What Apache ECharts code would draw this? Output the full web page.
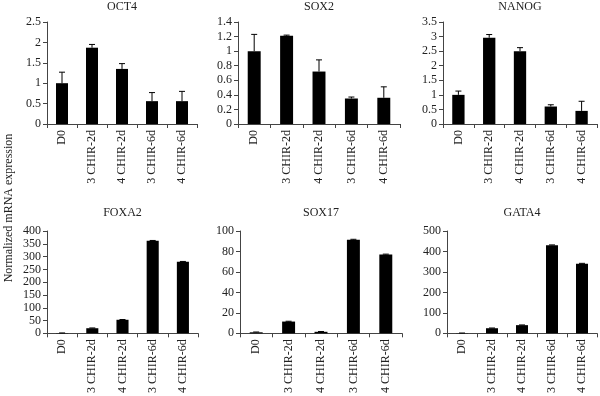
<!DOCTYPE html>
<html>
<head>
<meta charset="utf-8">
<script src="https://cdn.jsdelivr.net/npm/echarts@6/dist/echarts.min.js"></script>
<style>
  html, body { margin: 0; padding: 0; background: #fff; }
  #chart { width: 600px; height: 396px; }
</style>
</head>
<body>
<div id="chart"></div>
<script>
// categories shared by all six panels
const categories = ['D0', '3 CHIR-2d', '4 CHIR-2d', '3 CHIR-6d', '4 CHIR-6d']

// mean values and upper error (SD) per gene
const oct4Values = [1.0, 1.87, 1.35, 0.56, 0.56]
const oct4Errors = [0.27, 0.08, 0.13, 0.21, 0.24]
const sox2Values = [1.0, 1.21, 0.72, 0.35, 0.36]
const sox2Errors = [0.23, 0.01, 0.16, 0.02, 0.15]
const nanogValues = [1.0, 2.96, 2.5, 0.6, 0.45]
const nanogErrors = [0.13, 0.11, 0.12, 0.06, 0.33]
const foxa2Values = [1, 20, 53, 362, 280]
const foxa2Errors = [0.5, 1, 1, 1, 1]
const sox17Values = [1, 11.5, 1.5, 91.5, 77]
const sox17Errors = [0.3, 0.3, 0.3, 0.4, 0.4]
const gata4Values = [1, 25, 40, 430, 340]
const gata4Errors = [0.5, 1, 1, 2, 2]

// axis ranges
const oct4Axis = { max: 2.5, interval: 0.5 }
const sox2Axis = { max: 1.4, interval: 0.2 }
const nanogAxis = { max: 3.5, interval: 0.5 }
const foxa2Axis = { max: 400, interval: 50 }
const sox17Axis = { max: 100, interval: 20 }
const gata4Axis = { max: 500, interval: 100 }

const FONT = 'Liberation Serif'
const INK = '#222'
const AXIS = '#444'

const panels = [
  { name: 'OCT4', values: oct4Values, errors: oct4Errors, axis: oct4Axis, box: { left: 47, top: 22, width: 150, height: 102 } },
  { name: 'SOX2', values: sox2Values, errors: sox2Errors, axis: sox2Axis, box: { left: 238, top: 22, width: 162, height: 102 } },
  { name: 'NANOG', values: nanogValues, errors: nanogErrors, axis: nanogAxis, box: { left: 443, top: 22, width: 154, height: 102 } },
  { name: 'FOXA2', values: foxa2Values, errors: foxa2Errors, axis: foxa2Axis, box: { left: 47, top: 231, width: 151, height: 107 } },
  { name: 'SOX17', values: sox17Values, errors: sox17Errors, axis: sox17Axis, box: { left: 240, top: 231, width: 162, height: 107 } },
  { name: 'GATA4', values: gata4Values, errors: gata4Errors, axis: gata4Axis, box: { left: 447, top: 231, width: 150, height: 106 } }
]

const grid = []
const xAxis = []
const yAxis = []
const series = []
const graphic = []

panels.forEach((p, i) => {
  grid.push({ left: p.box.left, top: p.box.top, width: p.box.width, height: p.box.height, containLabel: false })
  xAxis.push({
    type: 'category',
    gridIndex: i,
    data: categories,
    axisLine: { lineStyle: { color: AXIS, width: 1 } },
    axisTick: { show: true, length: 4, lineStyle: { color: AXIS } },
    axisLabel: { rotate: 90, color: INK, fontFamily: FONT, fontSize: 12, margin: 6 }
  })
  yAxis.push({
    type: 'value',
    gridIndex: i,
    min: 0,
    max: p.axis.max,
    interval: p.axis.interval,
    axisLine: { show: true, lineStyle: { color: AXIS, width: 1 } },
    axisTick: { show: true, length: 4, lineStyle: { color: AXIS } },
    splitLine: { show: false },
    axisLabel: { color: INK, fontFamily: FONT, fontSize: 12, margin: 6 }
  })
  series.push({
    type: 'bar',
    xAxisIndex: i,
    yAxisIndex: i,
    data: p.values,
    barWidth: '40%',
    itemStyle: { color: '#000' },
    silent: true
  })
  series.push({
    type: 'custom',
    xAxisIndex: i,
    yAxisIndex: i,
    data: p.values.map((v, k) => [k, v, v + p.errors[k]]),
    renderItem: (params, api) => {
      const base = api.coord([api.value(0), api.value(1)])
      const top = api.coord([api.value(0), api.value(2)])
      const cap = 3
      return {
        type: 'group',
        children: [
          { type: 'line', shape: { x1: base[0], y1: base[1], x2: top[0], y2: top[1] }, style: { stroke: '#000', lineWidth: 1 } },
          { type: 'line', shape: { x1: top[0] - cap, y1: top[1], x2: top[0] + cap, y2: top[1] }, style: { stroke: '#000', lineWidth: 1 } }
        ]
      }
    },
    z: 3,
    silent: true
  })
  graphic.push({
    type: 'text',
    x: p.box.left + p.box.width / 2,
    y: p.box.top - (i < 3 ? 15 : 18),
    style: { text: p.name, fill: INK, font: '12px "' + FONT + '"', textAlign: 'center', textVerticalAlign: 'middle' }
  })
})

graphic.push({
  type: 'text',
  x: 9,
  y: 208,
  rotation: Math.PI / 2,
  style: { text: 'Normalized mRNA expression', fill: INK, font: '12px "' + FONT + '"', textAlign: 'center', textVerticalAlign: 'middle' }
})

const chart = echarts.init(document.getElementById('chart'), null, { renderer: 'canvas' })
chart.setOption({
  animation: false,
  backgroundColor: '#fff',
  grid,
  xAxis,
  yAxis,
  series,
  graphic
})
</script>
</body>
</html>
